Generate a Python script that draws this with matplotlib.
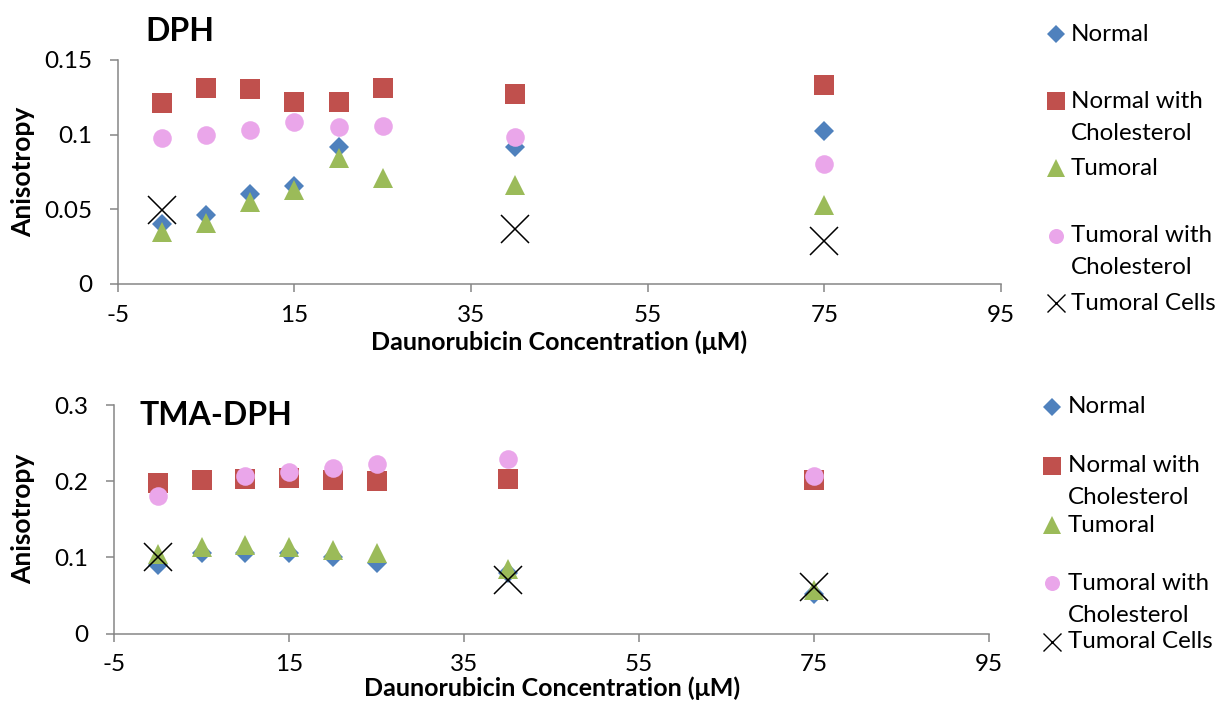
import numpy as np
import matplotlib
matplotlib.use("Agg")
import matplotlib.pyplot as plt

plt.rcParams['font.family'] = ['Lato', 'DejaVu Sans']
plt.rcParams['axes.unicode_minus'] = False

# concentrations (uM)
conc = [0, 5, 10, 15, 20, 25, 40, 75]
cells_conc = [0, 40, 75]

# DPH anisotropy
dph_normal = [0.040, 0.046, 0.060, 0.0656, 0.092, np.nan, 0.092, 0.1027]
dph_normal_chol = [0.1214, 0.1315, 0.1308, 0.1221, 0.1221, 0.131, 0.127, 0.133]
dph_tumoral = [0.035, 0.0406, 0.0551, 0.0632, 0.0842, 0.0708, 0.0665, 0.0527]
dph_tumoral_chol = [0.0975, 0.0996, 0.103, 0.1087, 0.1049, 0.106, 0.0984, 0.0806]
dph_cells = [0.0496, 0.0366, 0.0286]

# TMA-DPH anisotropy
tma_normal = [0.090, 0.1055, 0.106, 0.1055, 0.101, 0.0933, 0.080, 0.0517]
tma_normal_chol = [0.198, 0.2015, 0.203, 0.2045, 0.202, 0.2006, 0.203, 0.201]
tma_tumoral = [0.104, 0.1143, 0.1165, 0.1134, 0.110, 0.106, 0.085, 0.0578]
tma_tumoral_chol = [0.180, np.nan, 0.2063, 0.212, 0.218, 0.2225, 0.2287, 0.2072]
tma_cells = [0.101, 0.0705, 0.0618]

labels = [["Normal"], ["Normal with", "Cholesterol"], ["Tumoral"],
          ["Tumoral with", "Cholesterol"], ["Tumoral Cells"]]

BLUE = "#4F81BD"
RED = "#C0504D"
GREEN = "#9BBB59"
PINK = "#EAA6EA"
GRAY = "#868686"

# marker, size(pt), color, legend size
STYLES = [("D", 10.5, BLUE, 8.8),
          ("s", 14.9, RED, 12.5),
          ("^", 14.9, GREEN, 12.5),
          ("o", 13.4, PINK, 10.8),
          ("x", 19.7, "black", 12.5)]


def draw_panel(ax, series, cells, ymax, yticks):
    for (m, ms, c, _), ys in zip(STYLES[:4], series):
        ax.plot(conc, ys, linestyle="none", marker=m, ms=ms, color=c,
                markeredgewidth=0)
    m, ms, c, _ = STYLES[4]
    ax.plot(cells_conc, cells, linestyle="none", marker=m, ms=ms, color=c,
            markeredgewidth=1.1)
    ax.set_xlim(-5, 95)
    ax.set_ylim(0, ymax)
    ax.set_xticks([-5, 15, 35, 55, 75, 95])
    ax.set_yticks(yticks)
    ax.set_yticklabels(["%g" % v for v in yticks])
    for s in ["top", "right"]:
        ax.spines[s].set_visible(False)
    for s in ["left", "bottom"]:
        ax.spines[s].set_color(GRAY)
        ax.spines[s].set_linewidth(1.1)
    ax.tick_params(direction="out", length=5.8, width=1.1, color=GRAY,
                   labelsize=17.5)
    ax.tick_params(axis="x", pad=9)
    ax.tick_params(axis="y", pad=12.5)
    ax.set_xlabel("Daunorubicin Concentration (\u03bcM)", fontsize=18,
                  fontweight="bold", va="center")
    ax.set_ylabel("Anisotropy", fontsize=19, fontweight="bold",
                  va="center")


def draw_legend(lax, xm, xt, ys):
    for (m, _, c, lms), y, lab in zip(STYLES, ys, labels):
        mew = 1.0 if m == "x" else 0
        lax.plot([xm], [y], linestyle="none", marker=m, ms=lms, color=c,
                 markeredgewidth=mew)
        for k, line in enumerate(lab):
            lax.text(xt, y + 32 * k, line, fontsize=17.4, va="center",
                     ha="left")


fig = plt.figure(figsize=(12.19, 7.02), dpi=100)
ax1 = fig.add_axes([117.7 / 1219, 1 - 284 / 702, 883.3 / 1219, 224 / 702])
ax2 = fig.add_axes([114 / 1219, 1 - 633.7 / 702, 875.3 / 1219, 228.7 / 702])

draw_panel(ax1, [dph_normal, dph_normal_chol, dph_tumoral, dph_tumoral_chol],
           dph_cells, 0.15, [0, 0.05, 0.1, 0.15])
draw_panel(ax2, [tma_normal, tma_normal_chol, tma_tumoral, tma_tumoral_chol],
           tma_cells, 0.3, [0, 0.1, 0.2, 0.3])

ax1.xaxis.set_label_coords(0.5, (284 - 342) / 224)
ax2.xaxis.set_label_coords(0.5, (633.7 - 688) / 228.7)
ax1.yaxis.set_label_coords((23 - 117.7) / 883.3, 0.5)
ax2.yaxis.set_label_coords((23 - 114) / 875.3, 0.5)

ax1.text(0.031, 1.125, "DPH", transform=ax1.transAxes, fontsize=23,
         fontweight="bold", va="center", ha="left")
ax2.text(0.0297, 0.956, "TMA-DPH", transform=ax2.transAxes, fontsize=23,
         fontweight="bold", va="center", ha="left")

lax = fig.add_axes([0, 0, 1, 1])
lax.set_xlim(0, 1219)
lax.set_ylim(702, 0)
lax.axis("off")
draw_legend(lax, 1056, 1071, [34.3, 101, 168.3, 236, 303.3])
draw_legend(lax, 1052, 1068, [406.7, 465.7, 525, 583, 641.7])

fig.savefig("out.png", dpi=100)
